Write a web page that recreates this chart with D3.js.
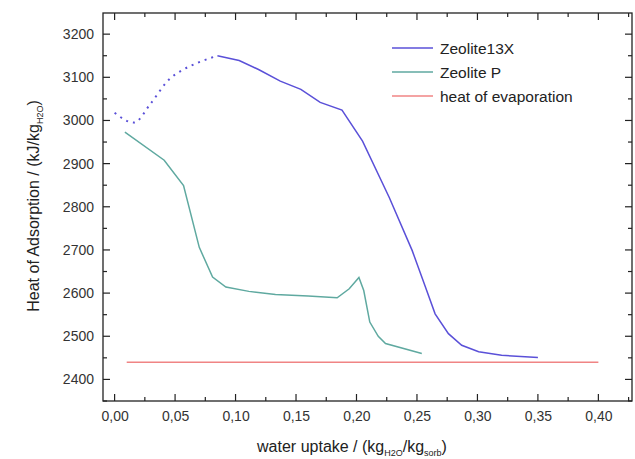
<!DOCTYPE html>
<html>
<head>
<meta charset="utf-8">
<script src="https://cdnjs.cloudflare.com/ajax/libs/d3/7.8.5/d3.min.js"></script>
<style>
  html, body { margin: 0; padding: 0; background: #fff; }
  svg { display: block; font-family: "Liberation Sans", Arial, sans-serif; }
</style>
</head>
<body>
<div id="chart"></div>
<script>
// Data
const zeoliteXDottedX = [0.0, 0.016, 0.03, 0.045, 0.055, 0.07, 0.085];
const zeoliteXDottedY = [3018, 2995, 3040, 3095, 3115, 3135, 3150];

const zeoliteXX = [0.085, 0.103, 0.119, 0.137, 0.154, 0.170, 0.188, 0.205, 0.227, 0.246, 0.257, 0.265, 0.276, 0.287, 0.301, 0.32, 0.35];
const zeoliteXY = [3150, 3139, 3118, 3091, 3072, 3042, 3024, 2952, 2822, 2699, 2614, 2552, 2506, 2479, 2464, 2456, 2451];

const zeolitePX = [0.0085, 0.041, 0.057, 0.07, 0.081, 0.092, 0.111, 0.133, 0.160, 0.184, 0.194, 0.202, 0.206, 0.211, 0.218, 0.224, 0.254];
const zeolitePY = [2973, 2908, 2849, 2706, 2637, 2614, 2604, 2597, 2593, 2589, 2610, 2636, 2606, 2533, 2500, 2483, 2460];

const evapX = [0.01, 0.40];
const evapY = [2440, 2440];

const xTicks = [0, 0.05, 0.10, 0.15, 0.20, 0.25, 0.30, 0.35, 0.40];
const yTicks = [2400, 2500, 2600, 2700, 2800, 2900, 3000, 3100, 3200];

const legendLabels = ['Zeolite13X', 'Zeolite P', 'heat of evaporation'];
const colors = ['#5a50d8', '#5fa9a0', '#f08484'];

const width = 635, height = 459;
const margin = { left: 103, right: 3, top: 13, bottom: 58 };

const svg = d3.select('#chart').append('svg')
    .attr('width', width)
    .attr('height', height);

const x = d3.scaleLinear().domain([-0.0096, 0.4278]).range([margin.left, width - margin.right]);
const y = d3.scaleLinear().domain([2350, 3249]).range([height - margin.bottom, margin.top]);

const fmt = d => d3.format('.2f')(d).replace('.', ',');

// frame
svg.append('rect')
    .attr('x', x.range()[0]).attr('y', y.range()[1])
    .attr('width', x.range()[1] - x.range()[0])
    .attr('height', y.range()[0] - y.range()[1])
    .attr('fill', 'none').attr('stroke', '#222').attr('stroke-width', 1.3);

const xMinor = d3.range(0, 0.426, 0.025);
const yMinor = d3.range(2350, 3250, 50);

// ticks pointing inward on all four sides
function drawTicks() {
    const g = svg.append('g').attr('stroke', '#222').attr('stroke-width', 1.2);
    const y0 = y.range()[0], y1 = y.range()[1];
    const x0 = x.range()[0], x1 = x.range()[1];
    xMinor.forEach(v => {
        const major = Math.abs(v / 0.05 - Math.round(v / 0.05)) < 1e-6;
        const len = major ? 7 : 4;
        g.append('line').attr('x1', x(v)).attr('x2', x(v)).attr('y1', y0).attr('y2', y0 - len);
        g.append('line').attr('x1', x(v)).attr('x2', x(v)).attr('y1', y1).attr('y2', y1 + len);
    });
    yMinor.forEach(v => {
        const major = v % 100 === 0;
        const len = major ? 7 : 4;
        g.append('line').attr('y1', y(v)).attr('y2', y(v)).attr('x1', x0).attr('x2', x0 + len);
        g.append('line').attr('y1', y(v)).attr('y2', y(v)).attr('x1', x1).attr('x2', x1 - len);
    });
}
drawTicks();

// tick labels via axes (tick lines hidden)
const xAxis = svg.append('g')
    .attr('transform', `translate(0,${y.range()[0]})`)
    .call(d3.axisBottom(x).tickValues(xTicks).tickFormat(fmt).tickSize(0).tickPadding(10));
const yAxis = svg.append('g')
    .attr('transform', `translate(${x.range()[0]},0)`)
    .call(d3.axisLeft(y).tickValues(yTicks).tickFormat(d3.format('d')).tickSize(0).tickPadding(9));
[xAxis, yAxis].forEach(a => {
    a.select('.domain').remove();
    a.selectAll('text').attr('font-size', 14).attr('fill', '#333')
        .attr('font-family', '"Liberation Sans", Arial, sans-serif');
});

// lines
const line = d3.line().x(d => x(d[0])).y(d => y(d[1]));
const plot = svg.append('g').attr('fill', 'none').attr('stroke-width', 1.5);

plot.append('path')
    .datum(zeoliteXDottedX.map((v, i) => [v, zeoliteXDottedY[i]]))
    .attr('d', line.curve(d3.curveMonotoneX))
    .attr('stroke', colors[0]).attr('stroke-dasharray', '2,5').attr('stroke-width', 2);

plot.append('path')
    .datum(zeoliteXX.map((v, i) => [v, zeoliteXY[i]]))
    .attr('d', line.curve(d3.curveLinear))
    .attr('stroke', colors[0]);

plot.append('path')
    .datum(zeolitePX.map((v, i) => [v, zeolitePY[i]]))
    .attr('d', line.curve(d3.curveLinear))
    .attr('stroke', colors[1]);

plot.append('path')
    .datum(evapX.map((v, i) => [v, evapY[i]]))
    .attr('d', line)
    .attr('stroke', colors[2]);

// legend
const legend = svg.append('g').attr('transform', 'translate(392,48)');
legendLabels.forEach((lab, i) => {
    legend.append('line').attr('x1', 0).attr('x2', 41).attr('y1', i * 24).attr('y2', i * 24)
        .attr('stroke', colors[i]).attr('stroke-width', 1.5);
    legend.append('text').attr('x', 48).attr('y', i * 24 + 5.5)
        .attr('font-size', 15.5).attr('fill', '#222').text(lab);
});

// axis titles
const xt = svg.append('text')
    .attr('x', 352).attr('y', 452)
    .attr('text-anchor', 'middle').attr('font-size', 16).attr('fill', '#222');
xt.append('tspan').text('water uptake / (kg');
xt.append('tspan').attr('font-size', 9).attr('dy', 4).text('H2O');
xt.append('tspan').attr('dy', -4).text('/kg');
xt.append('tspan').attr('font-size', 9).attr('dy', 4).text('sorb');
xt.append('tspan').attr('dy', -4).text(')');

const yt = svg.append('text')
    .attr('transform', 'translate(39,206) rotate(-90)')
    .attr('text-anchor', 'middle').attr('font-size', 16).attr('fill', '#222');
yt.append('tspan').text('Heat of Adsorption / (kJ/kg');
yt.append('tspan').attr('font-size', 9).attr('dy', 4).text('H2O');
yt.append('tspan').attr('dy', -4).text(')');
</script>
</body>
</html>
